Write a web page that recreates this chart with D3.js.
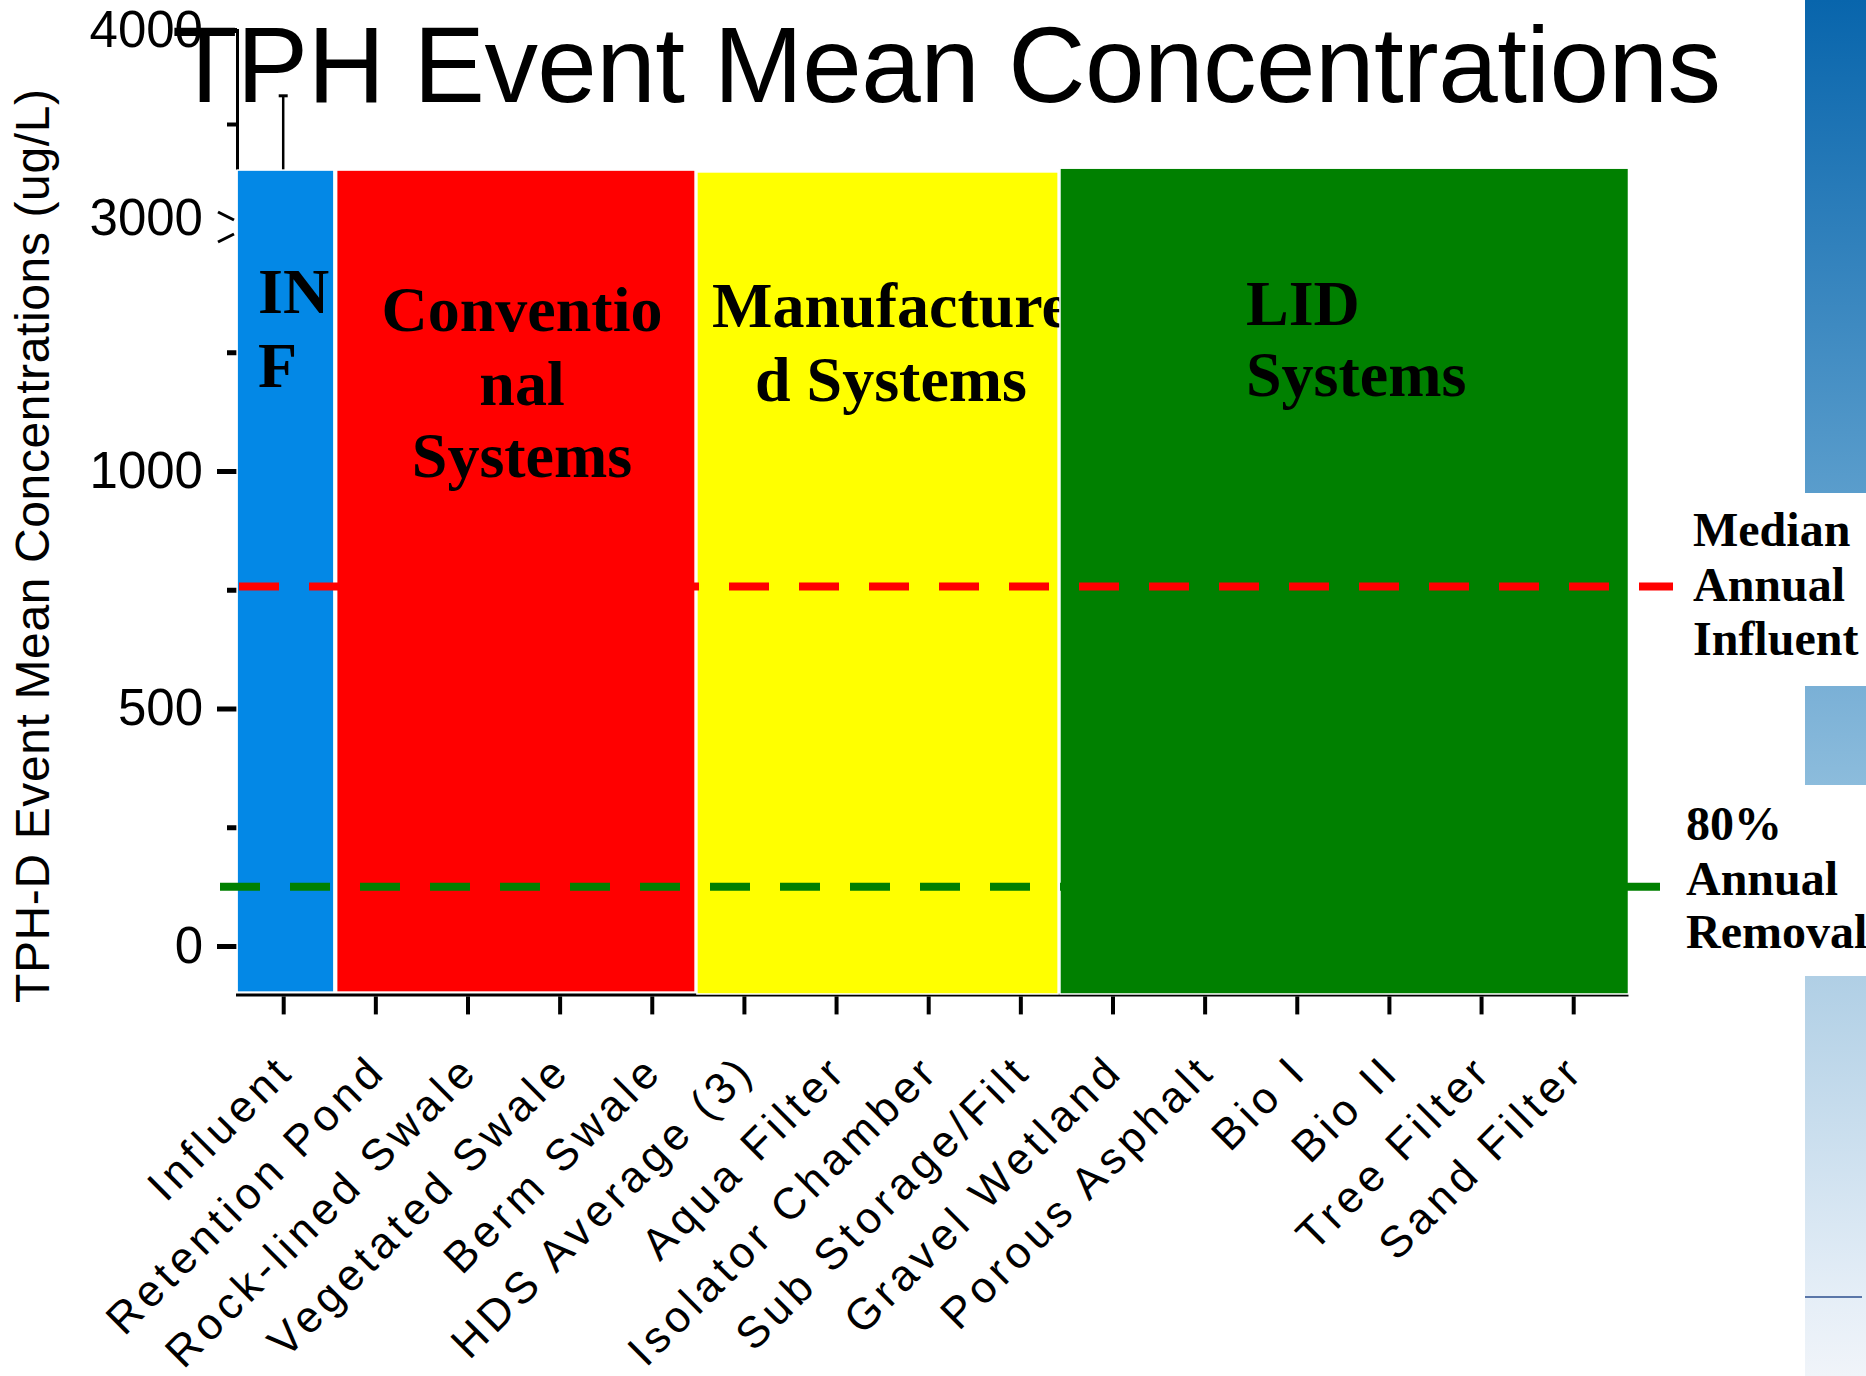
<!DOCTYPE html>
<html><head><meta charset="utf-8">
<script src="https://cdn.jsdelivr.net/npm/d3@7"></script>
<style>html,body{margin:0;padding:0;background:#fff;} svg{display:block;}</style>
</head><body><svg id="chart" width="1866" height="1376"></svg>
<script>
// ---------------- data ----------------
const categories = ["Influent","Retention Pond","Rock-lined Swale","Vegetated Swale","Berm Swale","HDS Average (3)","Aqua Filter","Isolator Chamber","Sub Storage/Filt","Gravel Wetland","Porous Asphalt","Bio I","Bio II","Tree Filter","Sand Filter"];
const lowerTicks = [0, 500, 1000];
const lowerMinorTicks = [250, 750, 1250];
const upperTicks = [3000, 4000];
const upperMinorTicks = [3500];
const groupLines = [["IN","F"],["Conventio","nal","Systems"],["Manufacture","d Systems"],["LID","Systems"]];
const groupFrom = [-0.5, 0.58, 4.49, 8.43];   // category-index units
const groupTo = [0.55, 4.47, 8.41, 14.6];
const groupTop = [3255, 3255, 3245, 3265];
const groupBottom = [-97, -97, -101, -101];
const errorCategory = "Influent";
const errorTop = 3650;
const medianInfluent = 757;
const removal80 = 125;
const refLabels = [["Median","Annual","Influent"],["80%","Annual","Removal"]];
const titleText = "TPH Event Mean Concentrations";
const yTitle = "TPH-D Event Mean Concentrations (ug/L)";

// ---------------- styles / layout ----------------
const groupColors = ["#0388e6", "#ff0000", "#ffff00", "#008000"];
const sans = "'Liberation Sans', Arial, sans-serif";
const serif = "'Liberation Serif', 'Times New Roman', serif";

const svg = d3.select("#chart");

// scales
const x = d3.scalePoint().domain(categories).range([283.2, 1573.2]);
const xi = d3.scaleLinear().domain([0, categories.length - 1]).range([283.2, 1573.2]);
const yLow = d3.scaleLinear().domain([0, 1000]).range([946, 471]);
const yUp = d3.scaleLinear().domain([3000, 4000]).range([218, 30]);

// right decorative gradient strip
const defs = svg.append("defs");
const grad = defs.append("linearGradient").attr("id","strip").attr("gradientUnits","userSpaceOnUse")
  .attr("x1",0).attr("y1",0).attr("x2",0).attr("y2",1376);
[[0,"rgb(8,101,172)"],[493,"rgb(90,157,204)"],[686,"rgb(122,176,214)"],[785,"rgb(140,188,220)"],
 [976,"rgb(176,207,229)"],[1297,"rgb(229,238,247)"],[1376,"rgb(240,244,249)"]]
 .forEach(([o,c]) => grad.append("stop").attr("offset", o/1376).attr("stop-color", c));
[[0,493],[686,785],[976,1376]].forEach(([a,b]) =>
  svg.append("rect").attr("x",1805).attr("y",a).attr("width",61).attr("height",b-a).attr("fill","url(#strip)"));
svg.append("line").attr("x1",1805).attr("x2",1862).attr("y1",1297).attr("y2",1297)
  .attr("stroke","#2b4e8e").attr("stroke-width",1.5);

// error bar (influent)
const ex = x(errorCategory);
svg.append("line").attr("x1",ex).attr("x2",ex).attr("y1",yUp(errorTop)).attr("y2",yUp(groupTop[0]))
  .attr("stroke","#000").attr("stroke-width",2.5);
svg.append("line").attr("x1",ex-4.5).attr("x2",ex+4.5).attr("y1",yUp(errorTop)).attr("y2",yUp(errorTop))
  .attr("stroke","#000").attr("stroke-width",3);

// Y axes
function styleAxis(g, w) {
  g.select(".domain").remove();
  g.selectAll(".tick line").attr("stroke","#000").attr("stroke-width",w);
  g.selectAll(".tick text").attr("font-family",sans).attr("font-size",51).attr("fill","#000");
}
const axX = 237;
const gLow = svg.append("g").attr("transform",`translate(${axX},0)`)
  .call(d3.axisLeft(yLow).tickValues(lowerTicks).tickSize(20).tickPadding(14).tickFormat(d3.format("d")));
styleAxis(gLow, 5);
const gLowMinor = svg.append("g").attr("transform",`translate(${axX},0)`)
  .call(d3.axisLeft(yLow).tickValues(lowerMinorTicks).tickSize(10).tickFormat(""));
styleAxis(gLowMinor, 5);
const gUp = svg.append("g").attr("transform",`translate(${axX},0)`)
  .call(d3.axisLeft(yUp).tickValues(upperTicks).tickSize(20).tickPadding(14).tickFormat(d3.format("d")));
styleAxis(gUp, 5);
gUp.selectAll(".tick").filter(d => d === 3000).select("line").remove();
const gUpMinor = svg.append("g").attr("transform",`translate(${axX},0)`)
  .call(d3.axisLeft(yUp).tickValues(upperMinorTicks).tickSize(10).tickFormat(""));
styleAxis(gUpMinor, 4);
// upper axis line segment
svg.append("line").attr("x1",axX+0.5).attr("x2",axX+0.5).attr("y1",yUp(4000)-1).attr("y2",yUp(groupTop[0]))
  .attr("stroke","#000").attr("stroke-width",3);
// break marks
svg.append("line").attr("x1",218).attr("y1",212).attr("x2",234).attr("y2",220).attr("stroke","#000").attr("stroke-width",3);
svg.append("line").attr("x1",218).attr("y1",242).attr("x2",234).attr("y2",234).attr("stroke","#000").attr("stroke-width",3);

// X axis
const axisY = yLow(-103);
svg.append("line").attr("x1",236).attr("x2",xi(groupTo[3])).attr("y1",axisY).attr("y2",axisY)
  .attr("stroke","#000").attr("stroke-width",3);
const gx = svg.append("g").attr("transform",`translate(0,${axisY+1.5})`)
  .call(d3.axisBottom(x).tickSize(18).tickSizeOuter(0));
gx.select(".domain").remove();
gx.selectAll(".tick line").attr("stroke","#000").attr("stroke-width",4);
gx.selectAll(".tick text").remove();
svg.append("g").selectAll("text").data(categories).join("text")
  .attr("transform", d => `translate(${x(d)+13},1073) rotate(-45)`)
  .attr("text-anchor","end")
  .attr("font-family",sans).attr("font-size",44).attr("letter-spacing","5px")
  .attr("fill","#000").text(d => d);

// group rects and labels
const groupLabelPos = [
  {x:258, y:[313,387], anchor:"start"},
  {x:522, y:[331,405,477], anchor:"middle"},
  {x:891, y:[327,401], anchor:"middle"},
  {x:1246, y:[325,396], anchor:"start"}
];
groupLines.forEach((lines, i) => {
  svg.append("rect")
    .attr("x", xi(groupFrom[i])).attr("width", xi(groupTo[i]) - xi(groupFrom[i]))
    .attr("y", yUp(groupTop[i])).attr("height", yLow(groupBottom[i]) - yUp(groupTop[i]))
    .attr("fill", groupColors[i]).attr("stroke","#fff").attr("stroke-width",1.5);
  const p = groupLabelPos[i];
  lines.forEach((t, j) => {
    svg.append("text").attr("x", p.x).attr("y", p.y[j]).attr("text-anchor", p.anchor)
      .attr("font-family", serif).attr("font-weight","bold").attr("font-size",64)
      .attr("fill","#000").text(t);
  });
});

// reference dashed lines
svg.append("line").attr("x1",239).attr("x2",1673).attr("y1",yLow(medianInfluent)).attr("y2",yLow(medianInfluent))
  .attr("stroke","#ff0000").attr("stroke-width",8).attr("stroke-dasharray","40,30");
svg.append("line").attr("x1",220).attr("x2",1660).attr("y1",yLow(removal80)).attr("y2",yLow(removal80))
  .attr("stroke","#008000").attr("stroke-width",8).attr("stroke-dasharray","40,30");

// reference labels
const refPos = [{x:1693, y:[546,601,655]}, {x:1686, y:[840,895,948]}];
refLabels.forEach((lines, i) => {
  lines.forEach((t, j) => {
    svg.append("text").attr("x", refPos[i].x).attr("y", refPos[i].y[j])
      .attr("font-family", serif).attr("font-weight","bold").attr("font-size",48)
      .attr("fill","#000").text(t);
  });
});

// y title
svg.append("text").attr("transform","translate(49,546) rotate(-90)").attr("text-anchor","middle")
  .attr("font-family",sans).attr("font-size",48).attr("fill","#000")
  .attr("textLength",914).attr("lengthAdjust","spacing").text(yTitle);

// title
svg.append("text").attr("x",172).attr("y",102)
  .attr("font-family",sans).attr("font-size",107).attr("fill","#000")
  .attr("textLength",1549).attr("lengthAdjust","spacing").text(titleText);
</script></body></html>
